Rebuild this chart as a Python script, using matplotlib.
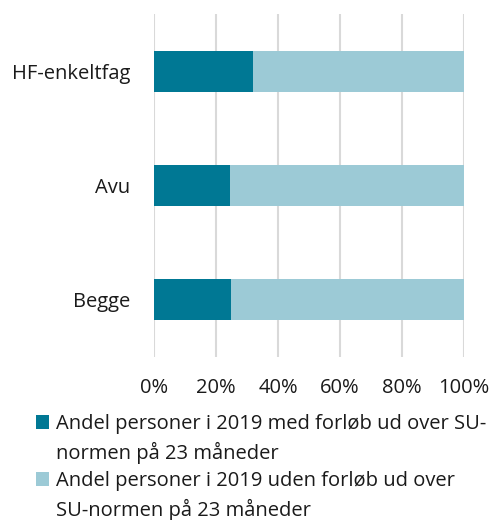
import matplotlib
matplotlib.use("Agg")
import matplotlib.pyplot as plt
from matplotlib.patches import Patch

categories = ["HF-enkeltfag", "Avu", "Begge"]
med_forloeb = [31.9, 24.5, 24.8]
uden_forloeb = [100 - v for v in med_forloeb]
xticks = [0, 20, 40, 60, 80, 100]
xticklabels = ["0%", "20%", "40%", "60%", "80%", "100%"]
legend_labels = [
    ("Andel personer i 2019 med forløb ud over SU-", "normen på 23 måneder"),
    ("Andel personer i 2019 uden forløb ud over", "SU-normen på 23 måneder"),
]

dark = "#007894"
light = "#9ccad6"
fs = 14.5

plt.rcParams["font.family"] = ["Open Sans", "DejaVu Sans"]

fig = plt.figure(figsize=(4.91, 5.20), dpi=100)
ax = fig.add_axes([154 / 491, (520 - 357) / 520, 310 / 491, 343 / 520])

y = list(range(len(categories)))
ax.barh(y, med_forloeb, height=0.36, color=dark, zorder=3)
ax.barh(y, uden_forloeb, left=med_forloeb, height=0.36, color=light, zorder=3)

ax.set_xlim(0, 100)
ax.set_ylim(2.5, -0.5)
ax.set_yticks(y)
ax.set_yticklabels(categories, fontsize=fs, color="#1a1a1a")
ax.set_xticks(xticks)
ax.set_xticklabels(xticklabels, fontsize=fs, color="#1a1a1a")
ax.tick_params(axis="both", length=0)
ax.tick_params(axis="x", pad=15)
ax.tick_params(axis="y", pad=17)
ax.grid(axis="x", color="#d9d9d9", linewidth=1.5, zorder=0)
for s in ax.spines.values():
    s.set_visible(False)

blank = Patch(facecolor="none", edgecolor="none")
handles = [Patch(facecolor=dark), blank, Patch(facecolor=light), blank]
labels = [legend_labels[0][0], legend_labels[0][1], legend_labels[1][0], legend_labels[1][1]]
fig.legend(handles, labels, loc="upper left", bbox_to_anchor=(36 / 491, 1 - 414 / 520),
           frameon=False, fontsize=fs, handlelength=0.65, handleheight=0.65,
           handletextpad=0.35, labelspacing=0.37, borderpad=0, borderaxespad=0,
           labelcolor="#1a1a1a")

fig.savefig("out.png", dpi=100)
